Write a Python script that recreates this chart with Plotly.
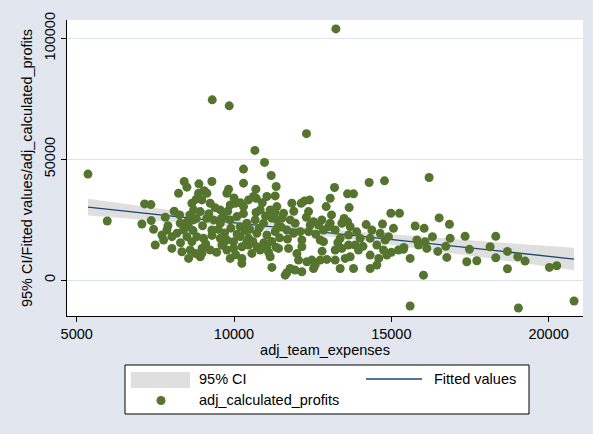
import numpy as np
import plotly.graph_objects as go

# ---- data: team expenses (x) vs calculated profits (y) ----
team_expenses = [
    5359, 5972,
    9308, 9848, 12304, 10664, 13238,
    15598, 19039, 20809,
    10303, 10970, 11182, 11341, 8884, 9297, 8418, 8238, 8503, 9827,
    9774, 10303, 10695, 10706, 11045, 11309, 7158, 7359, 7815, 7073,
    7370, 7444, 8270, 8291, 8662, 8980, 9244, 8874, 9138, 8715,
    8927, 9562, 9668, 9880, 10039, 10303, 10462, 10621, 10833, 11151,
    11362, 8397, 8556, 8715, 9138, 9350, 9562, 9880, 10092, 10197,
    10409, 10674, 10939, 11204, 11362, 7709, 7868, 8026, 7762, 8185,
    8503, 8662, 8821, 9033, 9297, 9562, 9774, 9986, 10197, 10462,
    10727, 11045, 11309, 7497, 8026, 8344, 8609, 8927, 9244, 8980,
    9615, 9774, 9986, 10250, 10462, 10727, 11045, 11341, 9880, 10250,
    10250, 11204, 11151, 10833, 10568, 8556, 8768, 8980,
    8600, 8800, 9000, 9200, 9400, 9500, 9700, 9900, 10100, 10300,
    10500, 10600, 10800, 11000, 11200, 11400, 8300, 8500, 8700, 9100,
    9300, 9600, 9800, 10000, 10200, 10400, 10700, 10900, 11100, 11300,
    7900, 8100, 9450, 9650, 10050, 10350, 10950, 11450, 8800, 9050,
    14296, 14783, 13195, 13057, 13608, 13799, 13661, 12242, 12136, 12401,
    11839, 12369, 12930, 14985, 15260, 15069, 15758, 16044, 14720, 14381,
    11575, 11522, 11786, 11945, 12528, 12792, 13057, 13428, 13608, 13693,
    12422, 12687, 12845, 13004, 13216, 11681, 11892, 12104, 12369, 12157,
    12740, 12845, 13375, 13640, 14010, 14328, 14646, 14804, 14910, 15811,
    16075, 11416, 11733, 12157, 13216, 13428, 13640, 13851, 13957, 14328,
    14540, 14752, 14858, 15228, 15387, 15599, 15864, 16128, 13693, 13534,
    13216, 12951, 12740, 12475, 12316, 12581, 12051, 11945, 11786, 11681,
    11628, 12157, 12528, 13375, 13799, 14328, 14540, 16022,
    11500, 11700, 11900, 12000, 12300, 12600, 12800, 13100, 13300, 13500,
    13900, 14100, 14200, 14600, 15000, 15400,
    16202, 16308, 16478, 16520, 16732, 16848, 16870, 16764, 17346, 17484,
    17399, 17717, 18140, 18320, 18320, 18691, 18691, 19019, 19252, 20025,
    20258,
]

calculated_profits = [
    43870, 24490,
    74580, 72090, 60590, 53660, 103900,
    -10670, -11490, -8590,
    45930, 48690, 43300, 38740, 39840, 40810, 40810, 35970, 38460, 37630,
    35970, 40120, 37630, 33900, 34590, 34860, 31540, 31270, 26010, 23250,
    24630, 21030, 26980, 23520, 31820, 33200, 31820, 35970, 35970, 29060,
    28360, 29060, 26290, 31130, 31820, 30440, 33200, 34590, 29060, 29060,
    30440, 20760, 22140, 24910, 25600, 24910, 23520, 24910, 26290, 22140,
    23520, 24910, 23520, 25600, 24910, 18680, 20760, 17990, 16610, 19370,
    17990, 15920, 17990, 17300, 20760, 17300, 16610, 15920, 17990, 17300,
    19370, 18680, 20070, 14530, 13150, 11770, 12460, 9690, 12460, 13150,
    14530, 12460, 13150, 13840, 14530, 13840, 13570, 13570, 9000, 9000,
    6930, 5270, 9690, 12460, 11070, 9000, 11070, 11070,
    27000, 25500, 22500, 27500, 30000, 21000, 19500, 21500, 19000, 27500,
    21000, 16000, 21500, 26500, 16000, 22000, 15500, 24000, 20500, 15000,
    18500, 25500, 28500, 34000, 32000, 15500, 28000, 32000, 11500, 28000,
    22500, 28500, 11500, 14500, 10500, 20500, 15500, 17500, 33500, 37000,
    40400, 41090, 38320, 33900, 35690, 35690, 30020, 32790, 31820, 33200,
    31820, 28360, 30440, 27670, 27670, 21450, 22420, 21450, 23250, 20760,
    27670, 25600, 24910, 23520, 24210, 24910, 23520, 23520, 24210, 22140,
    22830, 22830, 20760, 22140, 20760, 20760, 19370, 20070, 20070, 16610,
    16610, 15920, 17300, 18690, 17300, 17300, 19370, 16610, 17990, 16610,
    15920, 13150, 13150, 13840, 12460, 13150, 14530, 14530, 12460, 10380,
    14530, 12460, 10380, 12460, 12740, 9000, 14530, 13150, 9690, 9000,
    8310, 8590, 8310, 8310, 7620, 6240, 8310, 4160, 4850, 3050,
    2090, 3470, 4850, 4850, 4850, 4850, 6240, 2090,
    22000, 17000, 28500, 11000, 26000, 19000, 12000, 27000, 15500, 25500,
    20000, 14000, 23000, 9000, 11500, 13500,
    42470, 18000, 11910, 25740, 13980, 23110, 17300, 9420, 18130, 12740,
    7620, 8040, 13840, 18130, 9280, 11910, 4720, 9690, 7900, 5270,
    5960,
]

x_ticks = [5000, 10000, 15000, 20000]
y_ticks = [0, 50000, 100000]

# ---- linear fit with 95% confidence interval of the mean ----
x = np.array(team_expenses, dtype=float)
y = np.array(calculated_profits, dtype=float)
n = len(x)
slope, intercept = np.polyfit(x, y, 1)
grid = np.linspace(x.min(), x.max(), 100)
fitted = intercept + slope * grid
resid = y - (intercept + slope * x)
s = np.sqrt(np.sum(resid ** 2) / (n - 2))
xbar = x.mean()
sxx = np.sum((x - xbar) ** 2)
se = s * np.sqrt(1.0 / n + (grid - xbar) ** 2 / sxx)
t_crit = 1.969
upper = fitted + t_crit * se
lower = fitted - t_crit * se

FONT = "Liberation Sans, Arial, Helvetica, sans-serif"
GREEN = "#55752f"
NAVY = "#1a476f"
CI_GRAY = "#dfdfdf"

fig = go.Figure()
fig.add_trace(go.Scatter(
    x=np.concatenate([grid, grid[::-1]]),
    y=np.concatenate([upper, lower[::-1]]),
    fill="toself", fillcolor=CI_GRAY, line=dict(width=0),
    mode="lines", name="95% CI", hoverinfo="skip", showlegend=False,
))
fig.add_trace(go.Scatter(
    x=grid, y=fitted, mode="lines", name="Fitted values",
    line=dict(color=NAVY, width=1.3), showlegend=False,
))
fig.add_trace(go.Scatter(
    x=x, y=y, mode="markers", name="adj_calculated_profits",
    marker=dict(color=GREEN, size=9, line=dict(width=0)), showlegend=False,
))

# ---- legend box drawn below the plot ----
L, R, T, B = 67, 583, 20, 316
PW, PH = R - L, B - T


def px(v):
    return (v - L) / PW


def py(v):
    return (B - v) / PH


shapes = [
    dict(type="rect", xref="paper", yref="paper",
         x0=px(125), x1=px(529), y0=py(365), y1=py(414),
         line=dict(color="black", width=1), fillcolor="white", layer="below"),
    dict(type="rect", xref="paper", yref="paper",
         x0=px(131), x1=px(190), y0=py(372), y1=py(388),
         line=dict(width=0), fillcolor=CI_GRAY),
    dict(type="line", xref="paper", yref="paper",
         x0=px(366), x1=px(422), y0=py(379), y1=py(379),
         line=dict(color=NAVY, width=1.3)),
    dict(type="circle", xref="paper", yref="paper",
         xsizemode="pixel", ysizemode="pixel",
         xanchor=px(161), yanchor=py(400.5),
         x0=-4.5, x1=4.5, y0=-4.5, y1=4.5,
         line=dict(width=0), fillcolor=GREEN),
]

annotations = [
    dict(text="95% CI", x=px(197), y=py(378.5)),
    dict(text="Fitted values", x=px(431.5), y=py(378.5)),
    dict(text="adj_calculated_profits", x=px(197), y=py(400)),
]
for a in annotations:
    a.update(xref="paper", yref="paper", xanchor="left", yanchor="middle",
             showarrow=False, font=dict(family=FONT, size=14.5, color="black"))

fig.update_layout(
    width=593, height=434,
    margin=dict(l=L, r=593 - R, t=T, b=434 - B),
    paper_bgcolor="#e1e6ef", plot_bgcolor="white",
    font=dict(family=FONT, size=14.5, color="black"),
    showlegend=False,
    shapes=shapes, annotations=annotations,
    xaxis=dict(
        range=[4692, 21093],
        tickvals=x_ticks, ticktext=[str(v) for v in x_ticks],
        ticks="outside", ticklen=5, tickcolor="black", tickwidth=1,
        showline=True, linecolor="black", linewidth=1,
        showgrid=False, zeroline=False,
        title=dict(text="adj_team_expenses", standoff=3,
                   font=dict(family=FONT, size=14.5)),
    ),
    yaxis=dict(
        range=[-14813, 107593],
        tickvals=y_ticks, ticktext=[str(v) for v in y_ticks],
        tickangle=-90,
        ticks="outside", ticklen=5, tickcolor="black", tickwidth=1,
        showline=True, linecolor="black", linewidth=1,
        showgrid=True, gridcolor="#dde3ec", gridwidth=1, zeroline=False,
        title=dict(text="95% CI/Fitted values/adj_calculated_profits",
                   standoff=6, font=dict(family=FONT, size=14.5)),
    ),
)

fig.write_html("out.html")
